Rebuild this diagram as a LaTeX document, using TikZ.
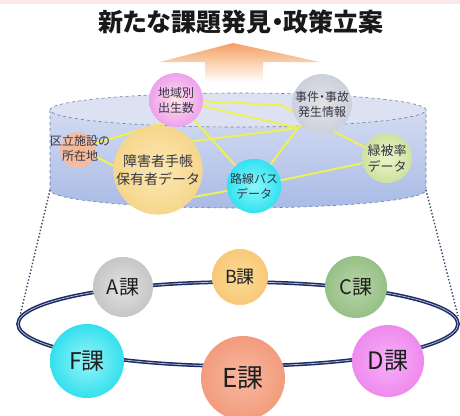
\documentclass[tikz,border=0pt]{standalone}
\usepackage{fontspec}
\newfontfamily\jp{Noto Sans CJK JP}
\newfontfamily\jpp[RawFeature=+palt]{Noto Sans CJK JP}
\definecolor{toppink}{HTML}{FBE9E9}
\definecolor{arrowor}{HTML}{F3A063}
\definecolor{arrowmid}{HTML}{FAD0AE}
\definecolor{cylA}{HTML}{D3DBF1}
\definecolor{cylB}{HTML}{A9BBE6}
\definecolor{cyltop}{HTML}{DDE2F2}
\definecolor{cyledge}{HTML}{6A78A6}
\definecolor{linky}{HTML}{EEF055}
\definecolor{txtd}{HTML}{353545}
\definecolor{navy}{HTML}{1C2C62}
\definecolor{ringin}{HTML}{B8C2E0}
\definecolor{dotc}{HTML}{3A4668}
\begin{document}
\begin{tikzpicture}[x=1pt,y=-1pt,
  link/.style={draw=linky, line width=2pt},
  dnode/.style={circle, inner sep=0pt, align=center, text=txtd,
    font={\jp\fontsize{12}{15}\selectfont}},
  unit/.style={circle, inner sep=0pt, text=black!88},
  ringline/.style={draw=navy, line width=1.5pt, double=ringin, double distance=0.7pt},
  dotline/.style={draw=dotc, line width=1.4pt, dotted},
  cyloutline/.style={draw=cyledge, line width=0.6pt, dashed}]
\useasboundingbox (0,0) rectangle (460,415);
\fill[white] (0,0) rectangle (460,415);
\fill[toppink] (0,0) rectangle (460,4);

% title
\node[font={\jpp\bfseries\fontsize{25}{27}\selectfont}, text=black!90] (title) at (241,22) {新たな課題発見・政策立案};

% arrow
\shade[top color=arrowor, bottom color=white, middle color=arrowmid]
  (233,43) -- (320,62) -- (263,62) -- (263,82) -- (205,82) -- (205,62) -- (160,62) -- cycle;

% cylinder
\shade[top color=cylA, bottom color=cylB]
  (50,110) -- (50,190) arc[start angle=180, end angle=360, x radius=188pt, y radius=18pt] -- (426,110) -- cycle;
\draw[cyloutline] (50,110) -- (50,190) arc[start angle=180, end angle=360, x radius=188pt, y radius=18pt] -- (426,110);
\filldraw[fill=cyltop, cyloutline] (238,110) ellipse[x radius=188pt, y radius=17pt];

% data nodes positions (coordinates for links)
\coordinate (hub) at (298,128);
\coordinate (bend) at (280,105);
\coordinate (chiikiC) at (176,100);
\coordinate (shogC) at (158,170);
\coordinate (kuritsuC) at (80,148);
\coordinate (rosenC) at (254,186);
\coordinate (ryokuC) at (387,158);
\coordinate (jikenC) at (322,104);

% links
\draw[link] (chiikiC) -- (bend) -- (ryokuC);
\draw[link] (chiikiC) -- (hub);
\draw[link] (chiikiC) -- (rosenC);
\draw[link] (166,122) -- (kuritsuC);
\draw[link] (160,100) -- (160,140);
\draw[link] (186,142) -- (hub);
\draw[link] (188,198) -- (rosenC);
\draw[link] (kuritsuC) -- (125,172);
\draw[link] (rosenC) -- (hub);
\draw[link] (rosenC) -- (ryokuC);
\draw[link] (hub) -- (jikenC);

% data nodes
\node[dnode, minimum size=54pt, inner color=pink!40!white, outer color={rgb,255:red,238;green,160;blue,238}] (chiiki) at (chiikiC) {地域別\\出生数};
\node[dnode, minimum size=54pt, inner color=gray!22, outer color=gray!18!cyltop, font={\jpp\fontsize{12}{15}\selectfont}] (jiken) at (jikenC) {事件・事故\\発生情報};
\node[dnode, minimum size=36pt, inner color={rgb,255:red,246;green,184;blue,140}, outer color={rgb,255:red,240;green,190;blue,170}] (kuritsuBall) at (78,150) {};
\node[dnode, align=center] (kuritsu) at (kuritsuC) {区立施設の\\所在地};
\node[dnode, minimum size=80pt, inner color={rgb,255:red,252;green,232;blue,178}, outer color={rgb,255:red,246;green,214;blue,140},
  font={\jp\fontsize{14}{18}\selectfont}] (shog) at (shogC) {障害者手帳\\保有者データ};
\node[dnode, minimum size=42pt, inner color={rgb,255:red,140;green,246;blue,250}, outer color={rgb,255:red,50;green,226;blue,240}] (rosen) at (rosenC) {路線バス\\データ};
\node[dnode, minimum size=50pt, inner color={rgb,255:red,236;green,244;blue,200}, outer color={rgb,255:red,206;green,226;blue,160},
  font={\jp\fontsize{13}{16}\selectfont}] (ryoku) at (ryokuC) {緑被率\\データ};

% dotted projection
\coordinate (cylL) at (50,190);
\coordinate (cylR) at (426,190);
\coordinate (ringL) at (19,320);
\coordinate (ringR) at (458,316);
\draw[dotline] (cylL) -- (ringL);
\draw[dotline] (cylR) -- (ringR);

% ring
\draw[ringline] (238,324) ellipse[x radius=220pt, y radius=42pt];

% units
\node[unit, minimum size=60pt, inner color=gray!22, outer color=gray!45, font={\jp\fontsize{20}{22}\selectfont}] (A) at (123,287) {A課};
\node[unit, minimum size=56pt, inner color={rgb,255:red,252;green,220;blue,150}, outer color={rgb,255:red,248;green,200;blue,120}, font={\jp\fontsize{18}{20}\selectfont}] (B) at (240,277) {B課};
\node[unit, minimum size=62pt, inner color={rgb,255:red,184;green,214;blue,168}, outer color={rgb,255:red,150;green,192;blue,134}, font={\jp\fontsize{20}{22}\selectfont}] (C) at (356,287) {C課};
\node[unit, minimum size=72pt, inner color={rgb,255:red,248;green,176;blue,248}, outer color={rgb,255:red,238;green,138;blue,238}, font={\jp\fontsize{24}{26}\selectfont}] (D) at (388,361) {D課};
\node[unit, minimum size=84pt, inner color={rgb,255:red,248;green,184;blue,160}, outer color={rgb,255:red,242;green,156;blue,124}, font={\jp\fontsize{26}{28}\selectfont}] (E) at (243,378) {E課};
\node[unit, minimum size=74pt, inner color={rgb,255:red,150;green,244;blue,250}, outer color={rgb,255:red,52;green,224;blue,238}, font={\jp\fontsize{23}{25}\selectfont}] (F) at (87,361) {F課};
\end{tikzpicture}
\end{document}
